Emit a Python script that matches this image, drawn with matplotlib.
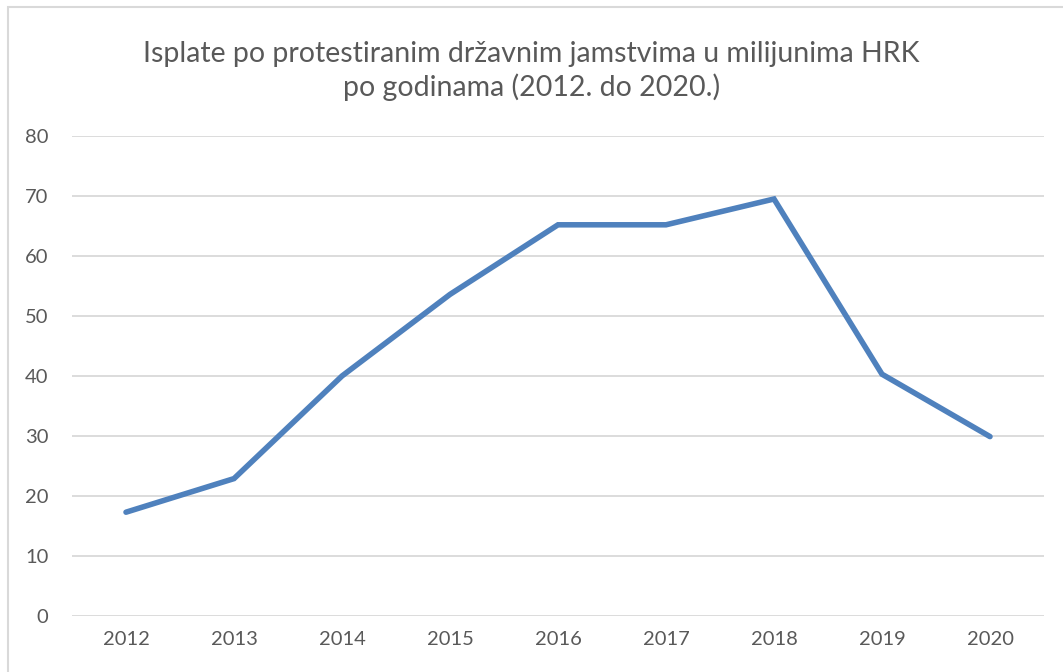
import matplotlib
matplotlib.use("Agg")
import matplotlib.pyplot as plt
from matplotlib.patches import Rectangle

years = ["2012", "2013", "2014", "2015", "2016", "2017", "2018", "2019", "2020"]
values = [17.3, 22.9, 40.0, 53.6, 65.2, 65.2, 69.5, 40.3, 29.9]
yticks = [0, 10, 20, 30, 40, 50, 60, 70, 80]
title = "Isplate po protestiranim državnim jamstvima u milijunima HRK\npo godinama (2012. do 2020.)"

plt.rcParams['font.family'] = ['Lato', 'DejaVu Sans']
W, H = 1063, 672
fig = plt.figure(figsize=(W / 100, H / 100), dpi=100)
fig.patches.append(Rectangle((8 / W, -0.1), 1.2, 1 - 7 / H + 0.1, transform=fig.transFigure,
                             fill=False, edgecolor="#d9d9d9", linewidth=1.5))
ax = fig.add_axes([72 / W, 1 - 616 / H, (1044 - 72) / W, (616 - 136) / H])
x = list(range(len(years)))
ax.plot(x, values, color="#4F81BD", linewidth=4.0, solid_capstyle="round", solid_joinstyle="miter", zorder=3)
ax.set_xlim(-0.5, len(years) - 0.5)
ax.set_ylim(0, 80)
ax.set_yticks(yticks)
ax.set_xticks(x)
ax.set_xticklabels(years)
ax.grid(axis="y", color="#d9d9d9", linewidth=1.3)
for s in ax.spines.values():
    s.set_visible(False)
ax.tick_params(length=0, labelsize=14.5, colors="#595959", pad=11)
ax.tick_params(axis="y", pad=17)
ax.set_axisbelow(True)
fig.text(0.5, 1 - 71 / H, title, ha="center", va="center", fontsize=20.5, color="#595959", linespacing=1.3)
fig.savefig("out.png", dpi=100)
